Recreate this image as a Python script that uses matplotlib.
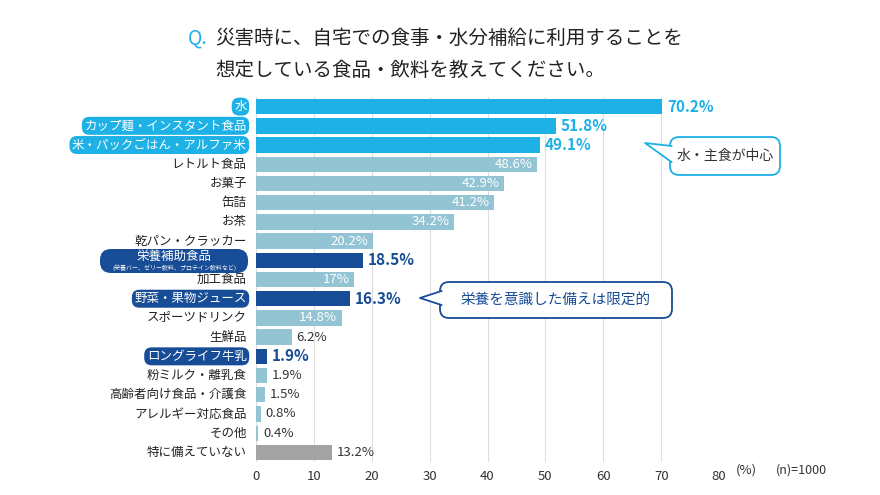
import matplotlib
matplotlib.use("Agg")
import matplotlib.pyplot as plt
from matplotlib.patches import Polygon, FancyBboxPatch

plt.rcParams['font.family'] = ['Noto Sans CJK JP', 'DejaVu Sans']

categories = ["水", "カップ麺・インスタント食品", "米・パックごはん・アルファ米", "レトルト食品", "お菓子", "缶詰", "お茶",
              "乾パン・クラッカー", "栄養補助食品", "加工食品", "野菜・果物ジュース", "スポーツドリンク", "生鮮品",
              "ロングライフ牛乳", "粉ミルク・離乳食", "高齢者向け食品・介護食", "アレルギー対応食品", "その他", "特に備えていない"]
values = [70.2, 51.8, 49.1, 48.6, 42.9, 41.2, 34.2, 20.2, 18.5, 17, 16.3, 14.8, 6.2, 1.9, 1.9, 1.5, 0.8, 0.4, 13.2]
labels = ["70.2%", "51.8%", "49.1%", "48.6%", "42.9%", "41.2%", "34.2%", "20.2%", "18.5%", "17%", "16.3%", "14.8%",
          "6.2%", "1.9%", "1.9%", "1.5%", "0.8%", "0.4%", "13.2%"]
kinds = ["L", "L", "L", "M", "M", "M", "M", "M", "D", "M", "D", "M", "M", "D", "M", "M", "M", "M", "G"]
xticks = [0, 10, 20, 30, 40, 50, 60, 70, 80]

col = {"L": "#1DB1E6", "M": "#93C4D4", "D": "#174C96", "G": "#A3A3A3"}
H = 495

fig = plt.figure(figsize=(8.8, 4.95), dpi=100)
ax = fig.add_axes([256/880, 1-462/495, (719-256)/880, (462-97)/495])
n = len(values)
ys = list(range(n))
ax.barh(ys, values, height=0.8, color=[col[k] for k in kinds], zorder=2)
ax.set_ylim(n-0.5, -0.5)
ax.set_xlim(0, 80)
ax.set_xticks(xticks)
ax.set_xticklabels([str(t) for t in xticks], fontsize=9.5, color="#333333")
ax.set_yticks([])
ax.grid(axis='x', color="#DDDDDD", lw=0.8, zorder=0)
for s in ax.spines.values():
    s.set_visible(False)
ax.tick_params(length=0, pad=6)
fig.text(736/880, 1-470/495, "(%)", fontsize=9.5, color="#333333", va="center", ha="left")
fig.text(776/880, 1-470/495, "(n)=1000", fontsize=9, color="#333333", va="center", ha="left")

for i, (v, lab, k) in enumerate(zip(values, labels, kinds)):
    if k == "L":
        ax.text(v+0.8, i, lab, va="center", ha="left", fontsize=11, fontweight="bold", color="#1DB1E6")
    elif k == "D":
        ax.text(v+0.8, i, lab, va="center", ha="left", fontsize=11, fontweight="bold", color="#174C96")
    elif v >= 14:
        ax.text(v-0.8, i, lab, va="center", ha="right", fontsize=9.5, color="white")
    else:
        ax.text(v+0.8, i, lab, va="center", ha="left", fontsize=9.5, color="#333333")

for i, (c, k) in enumerate(zip(categories, kinds)):
    if k in ("L", "D"):
        fc = col[k]
        if c == "栄養補助食品":
            fig.patches.append(FancyBboxPatch((100, H-273), 148, 24, boxstyle="round,pad=0,rounding_size=11",
                                              fc=fc, ec="none", transform=None, figure=fig))
            fig.text(174/880, 1-256/H, c, ha="center", va="center", fontsize=9, color="white")
            fig.text(174/880, 1-267.5/H, "(栄養バー、ゼリー飲料、プロテイン飲料など)", ha="center", va="center",
                     fontsize=4.3, color="white")
        else:
            ax.text(-1.6, i, c, ha="right", va="center", fontsize=9, color="white",
                    bbox=dict(boxstyle="round,pad=0.2,rounding_size=0.6", fc=fc, ec="none"))
    else:
        ax.text(-1.6, i, c, ha="right", va="center", fontsize=9, color="#222222")

def callout(x0, y0, x1, y1, tip, base_y0, base_y1, ec, text, tc, fs):
    fig.patches.append(FancyBboxPatch((x0, H-y1), x1-x0, y1-y0, boxstyle="round,pad=0,rounding_size=9",
                                      fc="white", ec=ec, lw=1.3, transform=None, figure=fig, zorder=5))
    pts = [[x0+1.5, H-base_y0], [tip[0], H-tip[1]], [x0+1.5, H-base_y1]]
    fig.patches.append(Polygon(pts, closed=True, fc="white", ec="none", transform=None, figure=fig, zorder=6))
    xs = [p[0] for p in pts]; yy = [p[1] for p in pts]
    fig.lines.append(plt.Line2D(xs, yy, color=ec, lw=1.3, transform=None, figure=fig, zorder=7))
    fig.text((x0+x1)/2/880, 1-(y0+y1)/2/H, text, ha="center", va="center", fontsize=fs, color=tc, zorder=8)

callout(670, 137, 780, 175, (645, 143), 146, 162, "#1DB1E6", "水・主食が中心", "#333333", 10)
callout(440, 282, 672, 318, (420, 298), 291, 305, "#174C96", "栄養を意識した備えは限定的", "#174C96", 10.5)

fig.text(188/880, 1-38/H, "Q.", fontsize=14, color="#1DB1E6", va="center")
fig.text(215/880, 1-38/H, "災害時に、自宅での食事・水分補給に利用することを", fontsize=14, color="#222222", va="center")
fig.text(215/880, 1-70/H, "想定している食品・飲料を教えてください。", fontsize=14, color="#222222", va="center")

fig.savefig("out.png", dpi=100)
